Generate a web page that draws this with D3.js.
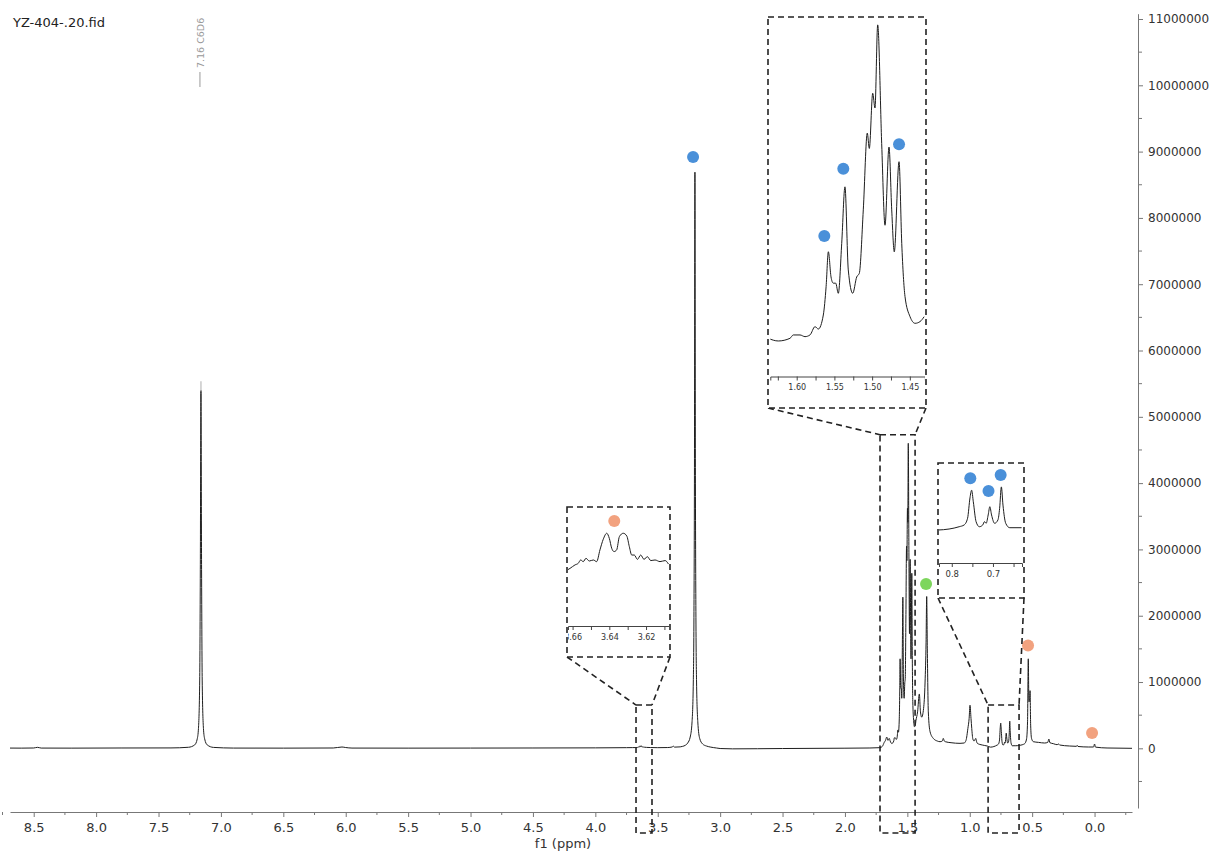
<!DOCTYPE html>
<html>
<head>
<meta charset="utf-8">
<script src="https://cdn.jsdelivr.net/npm/d3@7"></script>
<style>
  body { margin: 0; background: #fff; }
  svg { display: block; }
  text { font-family: "DejaVu Sans", Verdana, sans-serif; }
</style>
</head>
<body>
<svg id="chart" width="1213" height="852"></svg>
<script>
// ---- 1H NMR trace, [chemical shift (ppm), intensity] in descending ppm ----
const traceDownfield = [
  [8.69, 4000], [8.60, 3000], [8.50, 5000], [8.47, 15000], [8.44, 4000],
  [8.20, 3000], [7.80, 5000], [7.40, 6000], [7.26, 16000], [7.21, 52000],
  [7.19, 140000], [7.18, 300000], [7.17, 1030000], [7.165, 2700000],
  [7.16, 5400000],
  [7.155, 2700000], [7.15, 1030000], [7.14, 300000], [7.13, 140000],
  [7.11, 52000], [7.06, 14000], [6.90, 4000], [6.50, 3000], [6.10, 5000],
  [6.03, 20000], [6.00, 12000], [5.95, 4000], [5.50, 3000], [5.00, 4000],
  [4.50, 5000], [4.00, 7000], [3.75, 10000], [3.70, 11000], [3.675, 12000]
];

const traceMethoxy = [
  [3.6629, 13300], [3.6614, 14400], [3.6587, 16700], [3.6569, 17800],
  [3.6556, 20000], [3.6542, 18900], [3.6527, 21100], [3.6509, 19300],
  [3.6487, 20000], [3.6469, 18900], [3.6451, 26700], [3.6433, 33800],
  [3.6414, 37800], [3.6400, 34400], [3.6387, 27800], [3.6374, 25600],
  [3.6360, 26700], [3.6345, 35600], [3.6324, 37800], [3.6305, 36000],
  [3.6291, 28900], [3.6278, 23300], [3.6264, 23300], [3.6247, 20400],
  [3.6229, 23300], [3.6211, 20400], [3.6193, 22200], [3.6174, 19600],
  [3.6151, 20000], [3.6124, 18900], [3.6096, 19600], [3.6078, 17300],
  [3.59, 14000], [3.56, 12000]
];

const traceMid = [
  [3.50, 10000], [3.42, 12000], [3.385, 20000], [3.375, 32000], [3.365, 18000],
  [3.32, 22000], [3.30, 30000], [3.28, 45000], [3.26, 80000], [3.24, 170000],
  [3.225, 400000], [3.215, 1000000], [3.21, 1970000], [3.206, 4000000],
  [3.202, 8690000],
  [3.198, 4000000], [3.194, 1970000], [3.189, 1000000], [3.179, 400000],
  [3.164, 150000], [3.14, 65000], [3.11, 35000], [3.08, 20000], [3.03, 5000],
  [3.00, -3000], [2.90, -8000], [2.70, -6000], [2.50, -3000], [2.00, 2000],
  [1.80, 5000], [1.72, 10000], [1.70, 30000], [1.685, 90000], [1.675, 120000],
  [1.665, 170000], [1.655, 120000], [1.645, 150000]
];

const traceCluster = [
  [1.6377, 110000], [1.6244, 72000], [1.6089, 110000], [1.6045, 158000],
  [1.5956, 158000], [1.5890, 134000], [1.5824, 158000], [1.5757, 277000],
  [1.5713, 243000], [1.5647, 444000], [1.5610, 850000], [1.5580, 1350000],
  [1.5545, 990000], [1.5515, 900000], [1.5483, 900000], [1.5448, 755000],
  [1.5403, 1470000], [1.5360, 2280000], [1.5316, 1090000], [1.5257, 755000],
  [1.5204, 990000], [1.5170, 1040000], [1.5117, 1950000], [1.5064, 3050000],
  [1.5037, 2830000], [1.4992, 3620000], [1.4962, 3410000], [1.4926, 4600000],
  [1.4873, 2900000], [1.4829, 1730000], [1.4776, 2850000], [1.4740, 1950000],
  [1.4706, 1350000], [1.4643, 2640000], [1.4607, 1470000], [1.4564, 710000],
  [1.4497, 420000], [1.4430, 325000], [1.4364, 350000], [1.4310, 420000]
];

const traceAliphatic = [
  [1.418, 550000], [1.404, 820000], [1.395, 550000], [1.385, 470000],
  [1.370, 600000], [1.358, 1000000], [1.350, 1600000], [1.345, 2290000],
  [1.340, 1500000], [1.332, 550000], [1.318, 250000], [1.292, 150000],
  [1.260, 110000], [1.238, 100000], [1.220, 110000], [1.212, 150000],
  [1.204, 110000], [1.196, 100000], [1.150, 85000], [1.078, 75000],
  [1.045, 80000], [1.030, 120000], [1.015, 300000], [1.005, 450000],
  [0.998, 650000], [0.990, 450000], [0.984, 300000], [0.975, 140000],
  [0.965, 110000], [0.952, 150000], [0.945, 100000], [0.939, 75000],
  [0.900, 50000], [0.860, 35000]
];

const traceMethyl = [
  [0.8337, 18000], [0.8066, 27000], [0.7820, 48000], [0.7700, 64000],
  [0.7616, 125000], [0.7558, 310000], [0.7518, 380000], [0.7477, 275000],
  [0.7410, 94000], [0.7330, 48000], [0.7248, 64000], [0.7206, 94000],
  [0.7165, 79000], [0.7116, 155000], [0.7076, 230000], [0.7034, 155000],
  [0.6960, 79000], [0.6880, 109000], [0.6838, 215000], [0.6796, 410000],
  [0.6757, 245000], [0.6690, 79000], [0.6592, 39000], [0.6305, 39000]
];

const traceUpfield = [
  [0.600, 45000], [0.560, 70000], [0.545, 140000], [0.537, 400000],
  [0.531, 1350000], [0.526, 700000], [0.521, 720000], [0.517, 870000],
  [0.512, 350000], [0.505, 150000], [0.490, 100000], [0.450, 90000],
  [0.400, 80000], [0.375, 90000], [0.366, 140000], [0.358, 85000],
  [0.330, 70000], [0.300, 55000], [0.288, 65000], [0.280, 50000],
  [0.200, 35000], [0.145, 30000], [0.139, 45000], [0.133, 28000],
  [0.050, 20000], [0.008, 20000], [0.000, 65000], [-0.008, 18000],
  [-0.100, 5000], [-0.300, 0]
];

const spectrum = [].concat(traceDownfield, traceMethoxy, traceMid, traceCluster,
                           traceAliphatic, traceMethyl, traceUpfield);

// ---- axis ticks ----
const xMajorTicks = d3.range(17, -1, -1).map(i => i * 0.5);           // 8.5 ... 0.0
const xMinorTicks = d3.range(17, -2, -1).map(i => i * 0.5 + 0.25);    // 8.75 ... -0.25
const yMajorTicks = d3.range(0, 12).map(i => i * 1000000);            // 0 ... 11000000
const yMinorTicks = d3.range(-1, 11).map(i => i * 1000000 + 500000);

// ---- annotation dots: [ppm, intensity] ----
const dotsBlueMain = [[3.217, 8920000]];
const dotsGreenMain = [[1.350, 2480000]];
const dotsOrangeMain = [[0.533, 1550000], [0.020, 230000]];
const dotsBlueCluster = [[1.5634, 1576000], [1.5382, 2540000], [1.4643, 2890000]];
const dotsOrangeMethoxy = [[3.6373, 46000]];
const dotsBlueMethyl = [[0.7550, 488000], [0.7108, 373000], [0.6813, 518000]];

// ---- inset windows ----
const clusterDomain = [1.635, 1.430], clusterYDomain = [-437000, 4670000];
const clusterTicks = [1.625, 1.600, 1.575, 1.550, 1.525, 1.500, 1.475, 1.450];
const clusterLabels = [1.60, 1.55, 1.50, 1.45];
const clusterRegion = [1.719, 1.438], clusterRegionTop = 4730000;

const methoxyDomain = [3.6625, 3.6075], methoxyYDomain = [-24000, 53300];
const methoxyTicks = [3.66, 3.65, 3.64, 3.63, 3.62, 3.61];
const methoxyLabels = [3.66, 3.64, 3.62];
const methoxyRegion = [3.674, 3.546], methoxyRegionTop = 653000;

const methylDomain = [0.831, 0.6295], methylYDomain = [-281800, 600000];
const methylTicks = [0.80, 0.75, 0.70, 0.65];
const methylLabels = [0.8, 0.7];
const methylRegion = [0.853, 0.605], methylRegionTop = 653000;

const solventLabel = "7.16 C6D6", solventShift = 7.16;

// ---- colours ----
const COL = { blue: "#4a90d9", orange: "#f2a27f", green: "#7dd65c",
              trace: "#1e1e1e", axis: "#777", text: "#333", dash: "#222" };

const svg = d3.select("#chart");
const x = d3.scaleLinear().domain([8.69, -0.30]).range([10, 1132]);
const y = d3.scaleLinear().domain([-900000, 11080000]).range([808, 13.7]);

const line = (xs, ys) => d3.line().x(d => xs(d[0])).y(d => ys(d[1])).curve(d3.curveMonotoneX);

// title
svg.append("text").attr("x", 13).attr("y", 27).attr("font-size", 13)
  .attr("fill", "#222").text("YZ-404-.20.fid");

// main spectrum
svg.append("path").datum(spectrum)
  .attr("fill", "none").attr("stroke", COL.trace).attr("stroke-width", 1)
  .attr("d", line(x, y));

// solvent peak label
const sx = x(solventShift);
svg.append("line").attr("x1", sx).attr("x2", sx)
  .attr("y1", y(5400000) - 9).attr("y2", y(5400000) + 1)
  .attr("stroke", "#bbb").attr("stroke-width", 1.2);
svg.append("line").attr("x1", sx - 1).attr("x2", sx - 1).attr("y1", 72).attr("y2", 87)
  .attr("stroke", "#999").attr("stroke-width", 1);
svg.append("text").attr("transform", `translate(${sx + 3},68) rotate(-90)`)
  .attr("font-size", 9.5).attr("fill", "#999").text(solventLabel);

// x axis
const gx = svg.append("g").attr("transform", "translate(0,812)")
  .call(d3.axisBottom(x).tickValues(xMajorTicks).tickSize(5).tickSizeOuter(0)
        .tickPadding(6).tickFormat(d3.format(".1f")));
gx.selectAll("path, line").attr("stroke", COL.axis);
gx.selectAll("text").attr("font-size", 13).attr("fill", COL.text)
  .attr("font-family", "DejaVu Sans, Verdana, sans-serif");
gx.selectAll(".minor").data(xMinorTicks).enter().append("line")
  .attr("x1", d => x(d)).attr("x2", d => x(d)).attr("y1", 0).attr("y2", 3)
  .attr("stroke", COL.axis);
svg.append("text").attr("x", 563).attr("y", 848).attr("text-anchor", "middle")
  .attr("font-size", 13).attr("fill", COL.text).text("f1 (ppm)");

// y axis
const gy = svg.append("g").attr("transform", "translate(1138,0)")
  .call(d3.axisRight(y).tickValues(yMajorTicks).tickSize(5).tickSizeOuter(0)
        .tickPadding(5).tickFormat(d3.format("d")));
gy.selectAll("path, line").attr("stroke", COL.axis);
gy.selectAll("text").attr("font-size", 12).attr("fill", COL.text)
  .attr("font-family", "DejaVu Sans, Verdana, sans-serif");
gy.selectAll(".minor").data(yMinorTicks).enter().append("line")
  .attr("x1", 0).attr("x2", 4).attr("y1", d => y(d)).attr("y2", d => y(d))
  .attr("stroke", COL.axis);

// dots
function dots(data, xs, ys, color) {
  svg.append("g").selectAll("circle").data(data).enter().append("circle")
    .attr("cx", d => xs(d[0])).attr("cy", d => ys(d[1])).attr("r", 6)
    .attr("fill", color);
}
dots(dotsBlueMain, x, y, COL.blue);
dots(dotsGreenMain, x, y, COL.green);
dots(dotsOrangeMain, x, y, COL.orange);

// insets: magnified windows of the same spectrum
const dashStyle = sel => sel.attr("fill", "none").attr("stroke", COL.dash)
  .attr("stroke-width", 1.6).attr("stroke-dasharray", "6,4");

function inset(o) {
  const xs = d3.scaleLinear().domain(o.domain).range(o.xRange);
  const ys = d3.scaleLinear().domain(o.yDomain).range([o.axisY, o.top]);
  const [bx0, by0, bx1, by1] = o.box;
  const id = o.id;

  // region box on the main spectrum and connectors
  const rx0 = x(o.region[0]), rx1 = x(o.region[1]), ry = y(o.regionTop);
  svg.append("rect").attr("x", rx0).attr("y", ry).attr("width", rx1 - rx0)
    .attr("height", 833 - ry).call(dashStyle);
  svg.append("line").attr("x1", bx0).attr("y1", by1).attr("x2", rx0).attr("y2", ry).call(dashStyle);
  svg.append("line").attr("x1", bx1).attr("y1", by1).attr("x2", rx1).attr("y2", ry).call(dashStyle);

  // white inset panel
  svg.append("rect").attr("x", bx0).attr("y", by0).attr("width", bx1 - bx0)
    .attr("height", by1 - by0).attr("fill", "#fff");

  const defs = svg.append("defs");
  defs.append("clipPath").attr("id", id + "-plot").append("rect")
    .attr("x", o.xRange[0]).attr("y", o.top)
    .attr("width", o.xRange[1] - o.xRange[0]).attr("height", o.axisY - o.top);
  defs.append("clipPath").attr("id", id + "-box").append("rect")
    .attr("x", bx0 + 1).attr("y", by0).attr("width", bx1 - bx0 - 2).attr("height", by1 - by0);

  const lo = Math.min(...o.domain) - 0.01, hi = Math.max(...o.domain) + 0.01;
  const part = spectrum.filter(d => d[0] >= lo && d[0] <= hi);
  svg.append("path").datum(part).attr("clip-path", `url(#${id}-plot)`)
    .attr("fill", "none").attr("stroke", COL.trace).attr("stroke-width", 1)
    .attr("d", line(xs, ys));

  const ax = svg.append("g").attr("clip-path", `url(#${id}-box)`)
    .append("g").attr("transform", `translate(0,${o.axisY})`)
    .call(d3.axisBottom(xs).tickValues(o.ticks).tickSize(4).tickSizeOuter(4)
          .tickPadding(4)
          .tickFormat(d => o.labels.some(l => Math.abs(l - d) < 1e-9) ? o.fmt(d) : ""));
  ax.selectAll("path, line").attr("stroke", "#444");
  ax.selectAll("text").attr("font-size", o.fontSize).attr("fill", COL.text)
    .attr("font-family", "DejaVu Sans, Verdana, sans-serif");

  dots(o.dots, xs, ys, o.dotColor);

  svg.append("rect").attr("x", bx0).attr("y", by0).attr("width", bx1 - bx0)
    .attr("height", by1 - by0).call(dashStyle);
}

inset({ id: "cluster", domain: clusterDomain, yDomain: clusterYDomain,
        xRange: [770.3, 924.9], axisY: 376.5, top: 20, box: [768, 17, 926, 408],
        ticks: clusterTicks, labels: clusterLabels, fmt: d3.format(".2f"), fontSize: 8,
        region: clusterRegion, regionTop: clusterRegionTop,
        dots: dotsBlueCluster, dotColor: COL.blue });

inset({ id: "methoxy", domain: methoxyDomain, yDomain: methoxyYDomain,
        xRange: [568, 669], axisY: 626, top: 510, box: [567, 507, 670, 657],
        ticks: methoxyTicks, labels: methoxyLabels, fmt: d3.format(".2f"), fontSize: 8,
        region: methoxyRegion, regionTop: methoxyRegionTop,
        dots: dotsOrangeMethoxy, dotColor: COL.orange });

inset({ id: "methyl", domain: methylDomain, yDomain: methylYDomain,
        xRange: [939, 1022], axisY: 563, top: 466, box: [938, 463, 1024, 598],
        ticks: methylTicks, labels: methylLabels, fmt: d3.format(".1f"), fontSize: 8.5,
        region: methylRegion, regionTop: methylRegionTop,
        dots: dotsBlueMethyl, dotColor: COL.blue });
</script>
</body>
</html>
